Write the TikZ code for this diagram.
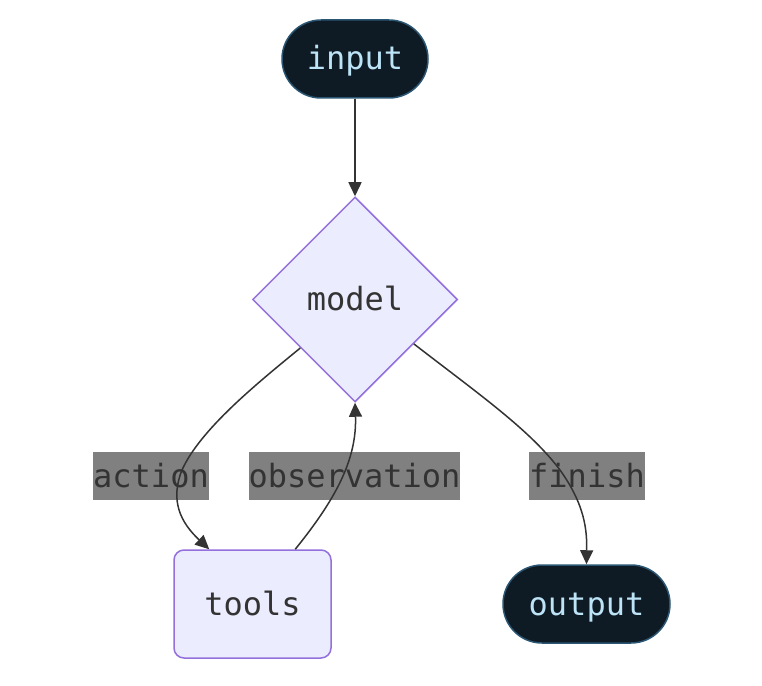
\documentclass[tikz,border=0pt]{standalone}
\usepackage{fontspec}
\setmonofont{DejaVu Sans Mono}
\usetikzlibrary{shapes.geometric,arrows.meta,calc}
\definecolor{termfill}{HTML}{0F1B24}
\definecolor{termdraw}{HTML}{2A5573}
\definecolor{termtext}{HTML}{BDE3F7}
\definecolor{boxfill}{HTML}{ECECFF}
\definecolor{boxdraw}{HTML}{9370DB}
\definecolor{ink}{HTML}{333333}
\definecolor{lblfill}{HTML}{808080}
\begin{document}
\begin{tikzpicture}[x=1bp,y=-1bp,
  every node/.style={font=\ttfamily\fontsize{32bp}{38bp}\selectfont, text height=25bp, text depth=3bp},
  term/.style={draw=termdraw, line width=1.5bp, fill=termfill, text=termtext,
    rounded corners=39bp, minimum height=78bp, inner sep=0pt},
  procbox/.style={draw=boxdraw, line width=1.5bp, fill=boxfill, text=ink,
    rounded corners=10bp, minimum width=157bp, minimum height=108bp, inner sep=0pt},
  decide/.style={diamond, aspect=1, draw=boxdraw, line width=1.5bp, fill=boxfill, text=ink,
    minimum width=205bp, minimum height=205bp, inner sep=0pt},
  elabel/.style={fill=lblfill, text=ink, inner xsep=0pt, inner ysep=0pt,
    minimum height=48bp},
  edge/.style={draw=ink, line width=1.5bp, -{Triangle[length=14bp,width=13bp]}}
]
\useasboundingbox[fill=white] (0,0) rectangle (762,686);

\node[term, minimum width=146bp] (in) at (355,59) {input};
\node[decide] (m) at (355,299.5) {model};
\node[procbox] (t) at (252.5,604) {tools};
\node[term, minimum width=167bp] (out) at (586.5,604) {output};

\node[elabel] (la) at (151,476) {action};
\node[elabel] (lo) at (354.5,476) {observation};
\node[elabel] (lf) at (587,476) {finish};

\coordinate (mA) at ($(m.west)!0.47!(m.south)$);
\coordinate (mF) at ($(m.east)!0.43!(m.south)$);
\coordinate (tA) at ($(t.north west)+(36,0)$);
\coordinate (tO) at ($(t.north west)+(122,0)$);

\draw[edge] (in.south) -- (m.north);
\draw[edge] (mA) .. controls (255,385) and (200,430) .. (182,470)
  .. controls (170,500) and (180,522) .. (tA);
\draw[edge] (tO) .. controls (335,500) and (357,460) .. (m.south);
\draw[edge] (mF) .. controls (480,395) and (530,430) .. (560,470)
  .. controls (585,505) and (587,530) .. (out.north);
\end{tikzpicture}
\end{document}
